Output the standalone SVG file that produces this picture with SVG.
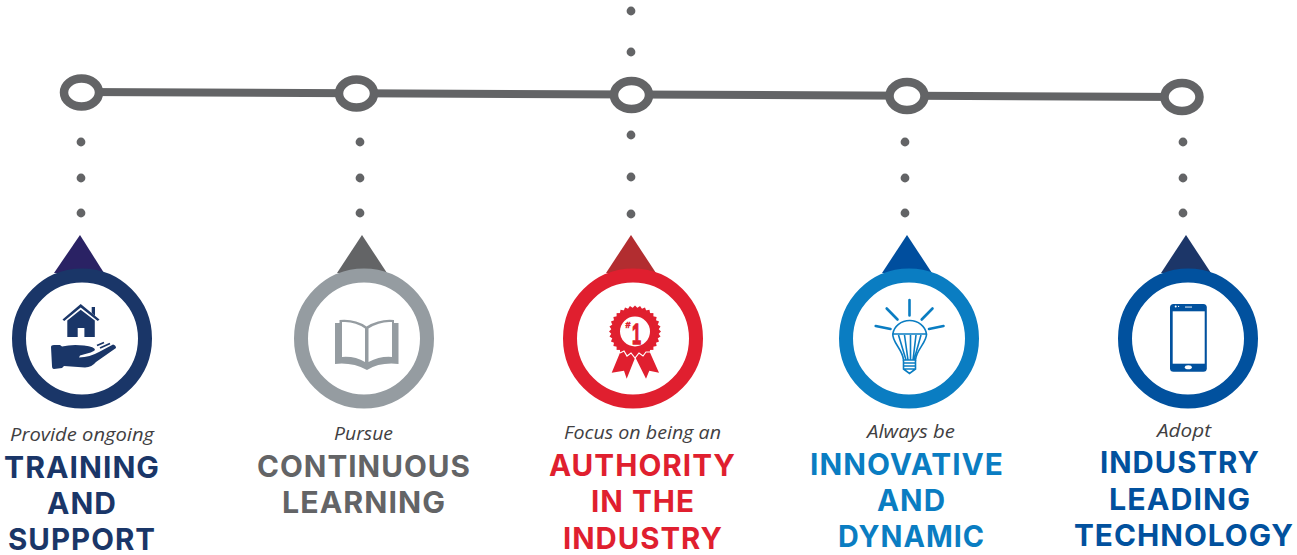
<svg xmlns="http://www.w3.org/2000/svg" width="1297" height="555" viewBox="0 0 1297 555">
<style>
.ring{fill:#fff;stroke-width:14}
.stop{fill:#fff;stroke:#636466;stroke-width:8.5}
.dot{fill:#636466}
.lead{font:italic 500 18.5px "Open Sans","Liberation Sans",sans-serif;fill:#414042}
.head{font:700 29.5px Inter,"Liberation Sans",sans-serif;letter-spacing:1px}
.ray{fill:none;stroke:#0a7dc2;stroke-width:2.6;stroke-linecap:round}
.thin{fill:none;stroke:#0a7dc2;stroke-width:1.6}
.navy{fill:#1a3668}.navyS{stroke:#1a3668}
.gray{fill:#636466}.grayS{stroke:#959ca1}
.red{fill:#e01f2f}.redS{stroke:#e01f2f}
.sky{fill:#0a7dc2}.skyS{stroke:#0a7dc2}
.blue{fill:#01519e}.blueS{stroke:#01519e}
</style>
<g id="connectors">
<line x1="82" y1="92" x2="1182" y2="97" stroke="#636466" stroke-width="8"/>
<g class="dot">
<circle cx="81" cy="142" r="4.4"/><circle cx="81" cy="178" r="4.4"/><circle cx="81" cy="213" r="4.4"/>
<circle cx="360" cy="142" r="4.4"/><circle cx="360" cy="178" r="4.4"/><circle cx="360" cy="213" r="4.4"/>
<circle cx="631" cy="11" r="4.4"/><circle cx="631" cy="52" r="4.4"/><circle cx="631" cy="135" r="4.4"/><circle cx="631" cy="177" r="4.4"/><circle cx="631" cy="214" r="4.4"/>
<circle cx="905" cy="142" r="4.4"/><circle cx="905" cy="178" r="4.4"/><circle cx="905" cy="213" r="4.4"/>
<circle cx="1183" cy="142" r="4.4"/><circle cx="1183" cy="178" r="4.4"/><circle cx="1183" cy="213" r="4.4"/>
</g>
<ellipse class="stop" cx="81.5" cy="92.5" rx="17.5" ry="14"/>
<ellipse class="stop" cx="356.5" cy="93.5" rx="17.5" ry="14"/>
<ellipse class="stop" cx="631.5" cy="95" rx="17.5" ry="14"/>
<ellipse class="stop" cx="907" cy="96" rx="17.5" ry="14"/>
<ellipse class="stop" cx="1182" cy="97" rx="17.5" ry="14"/>
</g>
<g id="node-training">
<polygon points="80,235 54,273 104,273" fill="#2a2264"/>
<circle class="ring navyS" cx="82" cy="338.5" r="63"/>
<g class="navy">
<path d="M62.5 319.5 L80.7 304 L99.5 319.5 L97.8 321 L80.7 307.5 L64.2 321 Z"/>
<path d="M91.7 307 H95 V316 L91.7 313 Z"/>
<path fill-rule="evenodd" d="M67.3 320.5 L80.7 309.8 L94.8 320.5 V337 H84.4 V328 H77.7 V337 H67.3 Z"/>
<path d="M51 347 Q51 345 54 345 L60 345 L62 346.5 Q72 344 84 345.5 Q95 346.5 95 350 Q94 352 80 355.5 L79 357.5 Q90 357 99 352 L113 344.5 Q116 345 116 348 L96 362 Q92 367 85 367.5 L64 366 L62 368 L54 369 Q52 369 52 366 Z"/>
</g>
<path d="M97 345.5 L104 342.5 M100 348 L110 343.5" fill="none" stroke="#1a3668" stroke-width="1.8"/>
<text class="lead" x="10" y="441" textLength="144" lengthAdjust="spacingAndGlyphs">Provide ongoing</text>
<g class="head navy">
<text x="4" y="478" textLength="156" lengthAdjust="spacingAndGlyphs">TRAINING</text>
<text x="47" y="514" textLength="70" lengthAdjust="spacingAndGlyphs">AND</text>
<text x="8" y="550" textLength="148" lengthAdjust="spacingAndGlyphs">SUPPORT</text>
</g>
</g>
<g id="node-learning">
<polygon points="362,235 337,273 387,273" fill="#636466"/>
<circle class="ring grayS" cx="364" cy="338.5" r="63"/>
<path fill="#959ca1" d="M335 323 H339.5 V320 Q355 318.5 366.5 326.5 Q380 318.5 394 320 V323 H398.5 V364 Q380 362 367 370 Q352 362 335 364 Z"/>
<path fill="#fff" d="M342 322 Q355 321 365 328.5 V362 Q355 356 342 357 Z M368.5 328.5 Q380 321 392 322 V357 Q380 356 368.5 362 Z"/>
<text class="lead" x="334" y="440" textLength="59" lengthAdjust="spacingAndGlyphs">Pursue</text>
<g class="head gray">
<text x="257" y="477" textLength="214" lengthAdjust="spacingAndGlyphs">CONTINUOUS</text>
<text x="282" y="513" textLength="164" lengthAdjust="spacingAndGlyphs">LEARNING</text>
</g>
</g>
<g id="node-authority">
<polygon points="631,235 606,273 656,273" fill="#b22d30"/>
<circle class="ring redS" cx="633" cy="338.5" r="63"/>
<g class="red">
<polygon points="620.7,351 611.7,372.7 624,370.7 626.7,378.7 635.3,357.3 646,378.7 649.3,370.7 659,372.7 649.3,351"/>
<g transform="translate(635 331.5)">
<rect x="-18.4" y="-18.4" width="36.8" height="36.8"/>
<rect x="-18.4" y="-18.4" width="36.8" height="36.8" transform="rotate(11.25)"/>
<rect x="-18.4" y="-18.4" width="36.8" height="36.8" transform="rotate(22.5)"/>
<rect x="-18.4" y="-18.4" width="36.8" height="36.8" transform="rotate(33.75)"/>
<rect x="-18.4" y="-18.4" width="36.8" height="36.8" transform="rotate(45)"/>
<rect x="-18.4" y="-18.4" width="36.8" height="36.8" transform="rotate(56.25)"/>
<rect x="-18.4" y="-18.4" width="36.8" height="36.8" transform="rotate(67.5)"/>
<rect x="-18.4" y="-18.4" width="36.8" height="36.8" transform="rotate(78.75)"/>
<circle r="15" fill="#fff"/>
</g>
</g>
<polyline points="620,353 624,351 627,356 631,353 635,358 639,353 643,356 646,352 650,352" fill="none" stroke="#fff" stroke-width="1.2"/>
<text x="632" y="344" font-family="Liberation Sans,sans-serif" font-weight="700" font-size="30" class="red" stroke="#e01f2f" stroke-width="1.4" textLength="9" lengthAdjust="spacingAndGlyphs">1</text>
<text x="625.5" y="328" font-family="Liberation Sans,sans-serif" font-weight="700" font-size="9" class="red" stroke="#e01f2f" stroke-width="0.5">#</text>
<text class="lead" x="564" y="439" textLength="157" lengthAdjust="spacingAndGlyphs">Focus on being an</text>
<g class="head red">
<text x="549" y="476" textLength="187" lengthAdjust="spacingAndGlyphs">AUTHORITY</text>
<text x="591" y="512" textLength="104" lengthAdjust="spacingAndGlyphs">IN THE</text>
<text x="563" y="548.5" textLength="160" lengthAdjust="spacingAndGlyphs">INDUSTRY</text>
</g>
</g>
<g id="node-innovative">
<polygon points="907,235 882,273 932,273" fill="#004e9e"/>
<circle class="ring skyS" cx="909" cy="338.5" r="63"/>
<path class="ray" d="M909.5 300 V315.5 M886.7 308.5 L897.5 319.5 M932.5 308.5 L921.7 319.5 M875.7 326 L890.5 329 M943.5 326 L929 329"/>
<path class="thin" d="M892.8 334 A17 15.5 0 0 1 926.5 334 H892.8 C892 342 903 350 903.5 360 H915.5 C916 350 927 342 926.5 334"/>
<path class="thin" d="M898.5 335 L906 360 M904.5 335 L908 360 M910.5 335 L910.5 360 M916 335 L913 360 M921 335 L914 360"/>
<path class="thin" d="M903.5 360 V369 L909.5 373.5 L915.5 369 V360 M903.5 363 H915.5 M903.5 366 H915.5 M903.5 369 H915.5"/>
<text class="lead" x="867" y="438" textLength="88" lengthAdjust="spacingAndGlyphs">Always be</text>
<g class="head sky">
<text x="810" y="475" textLength="194" lengthAdjust="spacingAndGlyphs">INNOVATIVE</text>
<text x="877" y="511" textLength="69" lengthAdjust="spacingAndGlyphs">AND</text>
<text x="838" y="547" textLength="147" lengthAdjust="spacingAndGlyphs">DYNAMIC</text>
</g>
</g>
<g id="node-technology">
<polygon points="1186,235 1161,273 1211,273" fill="#1c3668"/>
<circle class="ring blueS" cx="1188" cy="338.5" r="63"/>
<rect class="blue" x="1170" y="304" width="36.8" height="67.8" rx="3.5"/>
<rect x="1172.7" y="311.3" width="32" height="52.4" fill="#fff"/>
<ellipse cx="1188.3" cy="367.3" rx="3.5" ry="2" fill="#fff"/>
<rect x="1185" y="306.6" width="7" height="0.9" fill="#fff"/>
<circle cx="1175.7" cy="306.4" r="1" fill="#fff"/>
<circle cx="1178.6" cy="306.4" r="0.6" fill="#fff"/>
<text class="lead" x="1157" y="437" textLength="54" lengthAdjust="spacingAndGlyphs">Adopt</text>
<g class="head blue">
<text x="1100" y="473" textLength="160" lengthAdjust="spacingAndGlyphs">INDUSTRY</text>
<text x="1109" y="510" textLength="142" lengthAdjust="spacingAndGlyphs">LEADING</text>
<text x="1074" y="546" textLength="220" lengthAdjust="spacingAndGlyphs">TECHNOLOGY</text>
</g>
</g>
</svg>
